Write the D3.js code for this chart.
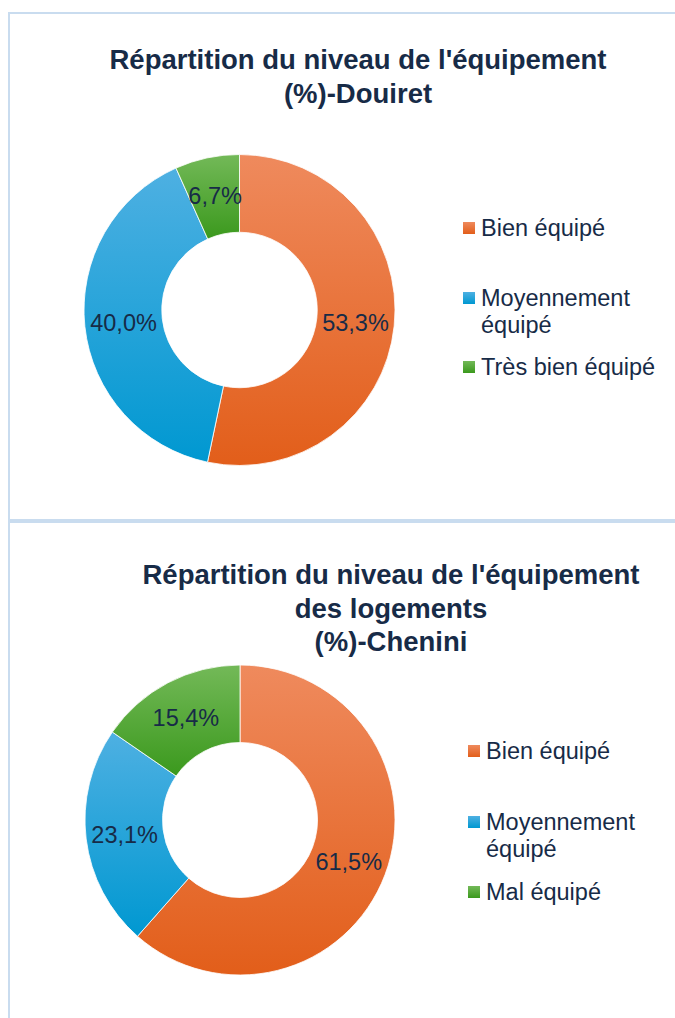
<!DOCTYPE html>
<html>
<head>
<meta charset="utf-8">
<script src="https://cdn.jsdelivr.net/npm/d3@7"></script>
<style>
  body { margin: 0; background: #fff; }
  svg { display: block; font-family: "Liberation Sans", Arial, sans-serif; }
</style>
</head>
<body>
<div id="container"></div>
<script>
// data
var douiretCategories = ['Bien équipé', 'Moyennement équipé', 'Très bien équipé'],
    douiretValues = [53.3, 40.0, 6.7],
    douiretTitle = ["Répartition du niveau de l'équipement", '(%)-Douiret'];

var cheniniCategories = ['Bien équipé', 'Moyennement équipé', 'Mal équipé'],
    cheniniValues = [61.5, 23.1, 15.4],
    cheniniTitle = ["Répartition du niveau de l'équipement", 'des logements', '(%)-Chenini'];

var sliceColors = [
  {top: '#ef8a5d', bottom: '#e25e1a'},
  {top: '#4eb0e2', bottom: '#0098d1'},
  {top: '#73b958', bottom: '#3b991d'}
];

var WIDTH = 675, HEIGHT = 1018,
    TEXT_COLOR = '#172b47',
    BORDER_COLOR = '#c9dcef';

var svg = d3.select('#container').append('svg')
    .attr('width', WIDTH)
    .attr('height', HEIGHT);

var defs = svg.append('defs');
sliceColors.forEach(function(c, i) {
  var g = defs.append('linearGradient')
      .attr('id', 'grad' + i)
      .attr('x1', 0).attr('y1', 0)
      .attr('x2', 0).attr('y2', 1);
  g.append('stop').attr('offset', '0%').attr('stop-color', c.top);
  g.append('stop').attr('offset', '100%').attr('stop-color', c.bottom);
});

function fmt(v) {
  return d3.format('.1f')(v).replace('.', ',') + '%';
}

function drawPanel(p) {
  // panel frame
  svg.append('rect')
      .attr('x', p.frame[0]).attr('y', p.frame[1])
      .attr('width', p.frame[2]).attr('height', p.frame[3])
      .attr('fill', 'none')
      .attr('stroke', BORDER_COLOR)
      .attr('stroke-width', 2);

  // title
  svg.append('text')
      .attr('x', p.titleX)
      .attr('y', p.titleY)
      .attr('text-anchor', 'middle')
      .attr('fill', TEXT_COLOR)
      .style('font-size', '27.5px')
      .style('font-weight', 'bold')
    .selectAll('tspan')
    .data(p.title)
    .enter()
    .append('tspan')
      .attr('x', p.titleX)
      .attr('dy', function(d, i) { return i ? 33.5 : 0; })
      .text(function(d) { return d; });

  var pie = d3.pie().sort(null).value(function(d) { return d; });
  var arc = d3.arc().innerRadius(p.r * 0.5).outerRadius(p.r);

  var g = svg.append('g')
      .attr('transform', 'translate(' + p.cx + ',' + p.cy + ')');

  var slices = g.selectAll('g.slice')
      .data(pie(p.values))
      .enter()
      .append('g')
        .attr('class', 'slice');

  slices.append('path')
      .attr('d', arc)
      .attr('fill', function(d, i) { return 'url(#grad' + i + ')'; })
      .attr('stroke', '#fff')
      .attr('stroke-width', 0.8);

  slices.append('text')
      .attr('transform', function(d) { return 'translate(' + arc.centroid(d) + ')'; })
      .attr('text-anchor', 'middle')
      .attr('dy', '0.36em')
      .attr('fill', TEXT_COLOR)
      .style('font-size', '23.5px')
      .text(function(d) { return fmt(d.data); });

  // legend
  var legend = svg.append('g')
      .attr('transform', 'translate(' + p.legendX + ',0)');
  p.categories.forEach(function(name, i) {
    var y = p.legendY[i];
    var words = name.split(' ');
    var lines = name.length > 16 ? [words[0], words.slice(1).join(' ')] : [name];
    legend.append('rect')
        .attr('x', 0)
        .attr('y', y - 6)
        .attr('width', 12)
        .attr('height', 12)
        .attr('fill', 'url(#grad' + i + ')');
    legend.append('text')
        .attr('x', 18)
        .attr('y', y)
        .attr('fill', TEXT_COLOR)
        .style('font-size', '23.5px')
      .selectAll('tspan')
      .data(lines)
      .enter()
      .append('tspan')
        .attr('x', 18)
        .attr('dy', function(d, j) { return j ? 27 : '0.36em'; })
        .text(function(d) { return d; });
  });
}

drawPanel({
  frame: [9, 13, 700, 507],
  title: douiretTitle, titleX: 358, titleY: 69,
  categories: douiretCategories, values: douiretValues,
  cx: 239.5, cy: 310, r: 155.5,
  legendX: 463, legendY: [228, 298, 367]
});

drawPanel({
  frame: [9, 522, 700, 520],
  title: cheniniTitle, titleX: 391, titleY: 584,
  categories: cheniniCategories, values: cheniniValues,
  cx: 240, cy: 820, r: 155,
  legendX: 468, legendY: [751, 822, 892]
});
</script>
</body>
</html>
